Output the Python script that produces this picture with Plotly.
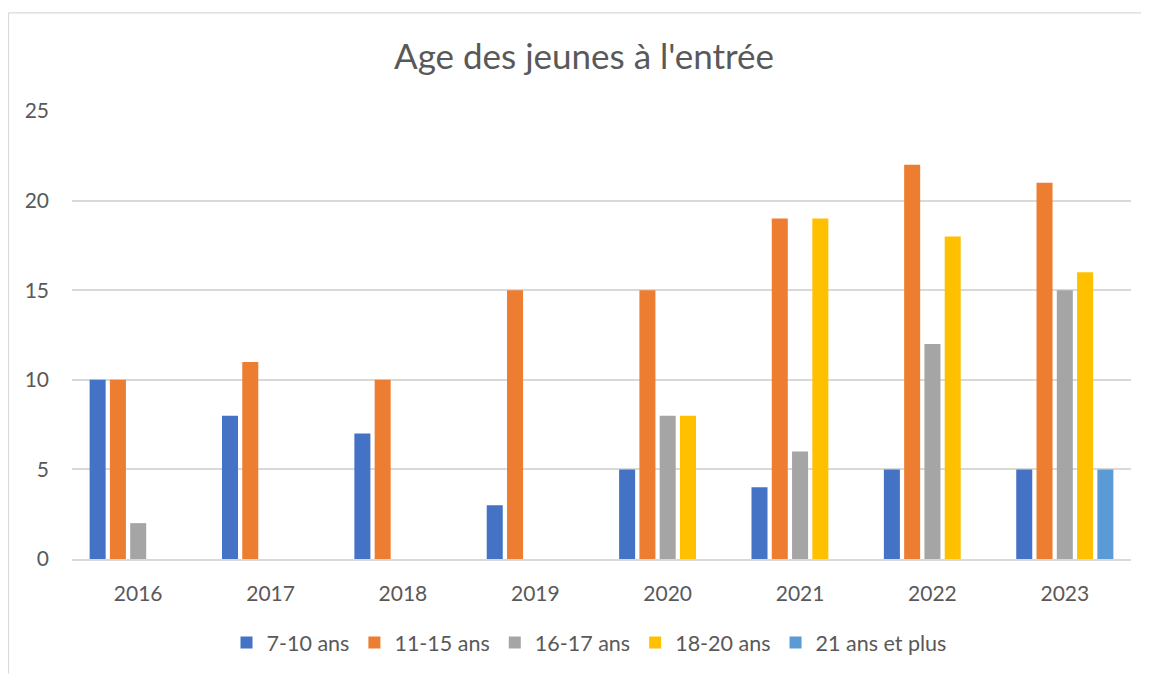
import plotly.graph_objects as go

years = ["2016", "2017", "2018", "2019", "2020", "2021", "2022", "2023"]
s_7_10 = [10, 8, 7, 3, 5, 4, 5, 5]
s_11_15 = [10, 11, 10, 15, 15, 19, 22, 21]
s_16_17 = [2, 0, 0, 0, 8, 6, 12, 15]
s_18_20 = [0, 0, 0, 0, 8, 19, 18, 16]
s_21_plus = [0, 0, 0, 0, 0, 0, 0, 5]
names = ["7-10 ans", "11-15 ans", "16-17 ans", "18-20 ans", "21 ans et plus"]
colors = ["#4472C4", "#ED7D31", "#A5A5A5", "#FFC000", "#5B9BD5"]
series = [s_7_10, s_11_15, s_16_17, s_18_20, s_21_plus]
y_ticks = [0, 5, 10, 15, 20, 25]

FONT = "Lato, Carlito, Calibri, sans-serif"
TXT = "#595959"

fig = go.Figure()
for n, c, s in zip(names, colors, series):
    fig.add_trace(go.Bar(x=years, y=s, name=n, marker=dict(color=c, line=dict(width=0))))

# page body has an 8px margin; figure coordinates are screen - 8
OFF = 8
W, H = 1149 - OFF, 675 - OFF
L, R, T, B = 72 - OFF, 1131 - OFF, 111 - OFF, 561 - OFF
pw, ph = R - L, B - T

def px(x):
    return (x - OFF - L) / pw

def py(y):
    return (B - (y - OFF)) / ph

fig.update_layout(
    width=W, height=H,
    margin=dict(l=L, r=W - R, t=T, b=H - B, pad=0),
    paper_bgcolor="white", plot_bgcolor="white",
    barmode="group", bargap=0.234, bargroupgap=0.21,
    font=dict(family=FONT, color=TXT, size=21),
    title=dict(text="Age des jeunes à l'entrée", x=(584 - OFF) / W, xanchor="center",
               y=1 - (57 - OFF) / H, yanchor="middle",
               font=dict(family=FONT, size=35, color=TXT)),
    showlegend=True,
    legend=dict(orientation="h", x=px(589), xanchor="center", y=py(645), yanchor="middle",
                font=dict(family=FONT, size=21.5, color=TXT), itemsizing="constant",
                traceorder="normal", bgcolor="rgba(0,0,0,0)", itemwidth=30),
    xaxis=dict(showgrid=False, showline=True, linecolor="#D9D9D9", linewidth=1.5,
               ticks="", tickfont=dict(family=FONT, size=21, color=TXT),
               ticklabelstandoff=15, fixedrange=True),
    yaxis=dict(range=[0, 25], tickvals=y_ticks, showgrid=True, gridcolor="#D9D9D9",
               gridwidth=1.5, zeroline=False, showline=False, ticks="",
               tickfont=dict(family=FONT, size=21, color=TXT),
               ticklabelstandoff=22, fixedrange=True),
    shapes=[
        dict(type="line", xref="paper", yref="paper", x0=px(8.5), x1=px(8.5),
             y0=py(12.5), y1=py(676), line=dict(color="#D9D9D9", width=1.2)),
        dict(type="line", xref="paper", yref="paper", x0=px(8.5), x1=px(1150),
             y0=py(12.5), y1=py(12.5), line=dict(color="#D9D9D9", width=1.2)),
    ],
)

fig.write_html("out.html")
